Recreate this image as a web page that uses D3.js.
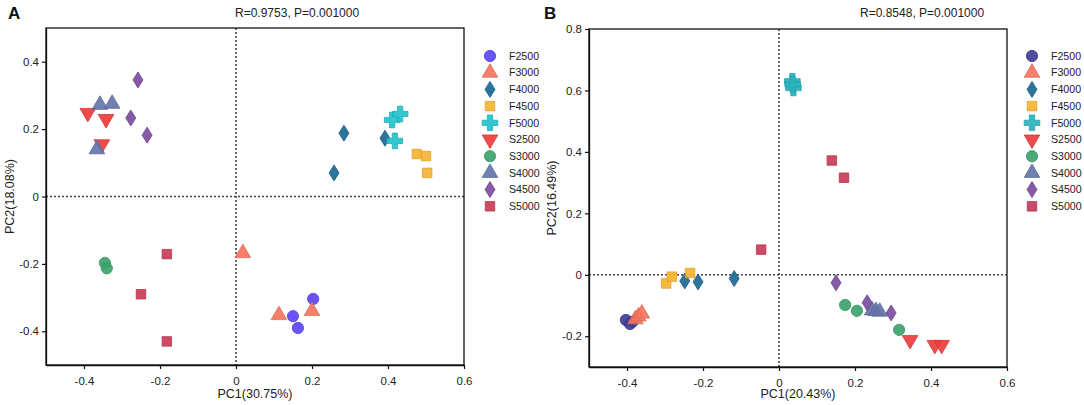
<!DOCTYPE html>
<html>
<head>
<meta charset="utf-8">
<script src="https://cdn.jsdelivr.net/npm/d3@7"></script>
<style>
  body { margin: 0; background: #fff; }
  svg { font-family: "Liberation Sans", Arial, sans-serif; }
</style>
</head>
<body>
<div id="chart"></div>
<script>
// group names and marker shapes (same order as the legend)
const groups = ["F2500", "F3000", "F4000", "F4500", "F5000", "S2500", "S3000", "S4000", "S4500", "S5000"];
const shapes = ["circle", "triangle", "diamond", "square", "cross", "down", "circle", "triangle", "diamond", "square"];
const colorsA = ["#5b47f2", "#f5755f", "#1b6894", "#f6b332", "#22c3cb", "#ee3c3c", "#3da36d", "#6575aa", "#7c4c9c", "#c93c57"];
const colorsB = ["#3f3f99", "#f5755f", "#1b6894", "#f6b332", "#27b3bd", "#ee3c3c", "#3da36d", "#6575aa", "#7c4c9c", "#c93c57"];

// panel A points: [group, PC1, PC2]
const pointsA = [
  ["F2500", 0.203, -0.304], ["F2500", 0.150, -0.355], ["F2500", 0.163, -0.390],
  ["F3000", 0.018, -0.168], ["F3000", 0.113, -0.352], ["F3000", 0.200, -0.340],
  ["F4000", 0.284, 0.188], ["F4000", 0.392, 0.173], ["F4000", 0.258, 0.070],
  ["F4500", 0.476, 0.126], ["F4500", 0.500, 0.120], ["F4500", 0.503, 0.070],
  ["F5000", 0.411, 0.227], ["F5000", 0.432, 0.245], ["F5000", 0.418, 0.165],
  ["S2500", -0.390, 0.248], ["S2500", -0.342, 0.230], ["S2500", -0.353, 0.155],
  ["S3000", -0.345, -0.197], ["S3000", -0.340, -0.213],
  ["S4000", -0.358, 0.272], ["S4000", -0.326, 0.275], ["S4000", -0.366, 0.140],
  ["S4500", -0.258, 0.346], ["S4500", -0.277, 0.233], ["S4500", -0.234, 0.182],
  ["S5000", -0.182, -0.171], ["S5000", -0.250, -0.290], ["S5000", -0.182, -0.430]
];

// panel B points: [group, PC1, PC2]
const pointsB = [
  ["F2500", -0.403, -0.147], ["F2500", -0.392, -0.160], ["F2500", -0.385, -0.152],
  ["F3000", -0.378, -0.145], ["F3000", -0.370, -0.136], ["F3000", -0.361, -0.126],
  ["F4000", -0.248, -0.020], ["F4000", -0.213, -0.023], ["F4000", -0.118, -0.012],
  ["F4500", -0.297, -0.028], ["F4500", -0.282, -0.006], ["F4500", -0.234, 0.006],
  ["F5000", 0.035, 0.630], ["F5000", 0.038, 0.608], ["F5000", 0.036, 0.620],
  ["S2500", 0.345, -0.212], ["S2500", 0.410, -0.228], ["S2500", 0.428, -0.228],
  ["S3000", 0.174, -0.098], ["S3000", 0.205, -0.117], ["S3000", 0.316, -0.179],
  ["S4000", 0.245, -0.116], ["S4000", 0.255, -0.118], ["S4000", 0.265, -0.120],
  ["S4500", 0.150, -0.026], ["S4500", 0.232, -0.091], ["S4500", 0.295, -0.124],
  ["S5000", 0.139, 0.372], ["S5000", 0.171, 0.316], ["S5000", -0.047, 0.082]
];

const xTicks = [-0.4, -0.2, 0, 0.2, 0.4, 0.6];
const yTicksA = [-0.4, -0.2, 0, 0.2, 0.4];
const yTicksB = [-0.2, 0, 0.2, 0.4, 0.6, 0.8];

const svg = d3.select("#chart").append("svg")
  .attr("width", 1084)
  .attr("height", 405);

// marker path for each shape, centred at 0,0
function markerPath(shape) {
  if (shape === "circle") return d3.symbol(d3.symbolCircle, 100)();
  if (shape === "triangle") return d3.symbol(d3.symbolTriangle, 105)();
  if (shape === "down") return d3.symbol(d3.symbolTriangle, 105)();
  if (shape === "square") return d3.symbol(d3.symbolSquare, 90)();
  if (shape === "cross") return d3.symbol(d3.symbolCross, 135)();
  // tall narrow diamond
  return "M0,-8L5,0L0,8L-5,0Z";
}

const fmt = d => String(+d.toFixed(1));

function panel(opts) {
  const x = d3.scaleLinear().domain(opts.xDomain).range([opts.left, opts.right]);
  const y = d3.scaleLinear().domain(opts.yDomain).range([opts.bottom, opts.top]);
  const g = svg.append("g");

  // dotted zero lines
  g.append("line")
    .attr("x1", x(0)).attr("x2", x(0))
    .attr("y1", opts.top).attr("y2", opts.bottom)
    .attr("stroke", "#444").attr("stroke-width", 1.6).attr("stroke-dasharray", "2,2");
  g.append("line")
    .attr("x1", opts.left).attr("x2", opts.right)
    .attr("y1", y(0)).attr("y2", y(0))
    .attr("stroke", "#444").attr("stroke-width", 1.6).attr("stroke-dasharray", "2,2");

  // frame
  g.append("rect")
    .attr("x", opts.left).attr("y", opts.top)
    .attr("width", opts.right - opts.left).attr("height", opts.bottom - opts.top)
    .attr("fill", "none").attr("stroke", "#111").attr("stroke-width", 1.3);

  const xAxis = g.append("g")
    .attr("transform", `translate(0,${opts.bottom})`)
    .call(d3.axisBottom(x).tickValues(xTicks).tickFormat(fmt).tickSize(4).tickSizeOuter(0));
  const yAxis = g.append("g")
    .attr("transform", `translate(${opts.left},0)`)
    .call(d3.axisLeft(y).tickValues(opts.yTicks).tickFormat(fmt).tickSize(4).tickSizeOuter(0));
  [xAxis, yAxis].forEach(a => {
    a.select(".domain").attr("stroke", "#111").attr("stroke-width", 1.3);
    a.selectAll(".tick line").attr("stroke", "#111").attr("stroke-width", 1.2);
    a.selectAll(".tick text").attr("font-size", 11.5).attr("fill", "#222")
      .attr("font-family", "Liberation Sans, Arial, sans-serif");
  });
  xAxis.selectAll(".tick text").attr("dy", "1.1em");

  // points
  g.append("g").selectAll("path")
    .data(opts.points)
    .join("path")
    .attr("d", d => markerPath(shapes[groups.indexOf(d[0])]))
    .attr("transform", d => {
      const s = shapes[groups.indexOf(d[0])];
      return `translate(${x(d[1])},${y(d[2])})` + (s === "down" ? " rotate(180)" : "");
    })
    .attr("fill", d => opts.colors[groups.indexOf(d[0])])
    .attr("fill-opacity", 0.92)
    .attr("stroke", d => d3.color(opts.colors[groups.indexOf(d[0])]).darker(0.3))
    .attr("stroke-width", 0.8);

  // axis titles
  g.append("text")
    .attr("x", (opts.left + opts.right) / 2).attr("y", 398)
    .attr("text-anchor", "middle").attr("font-size", 12.5).attr("fill", "#222")
    .text(opts.xLabel);
  g.append("text")
    .attr("transform", `translate(${opts.yLabelX},${(opts.top + opts.bottom) / 2}) rotate(-90)`)
    .attr("text-anchor", "middle").attr("font-size", 12.5).attr("fill", "#222")
    .text(opts.yLabel);

  // statistic title and panel letter
  g.append("text")
    .attr("x", opts.titleX).attr("y", 17)
    .attr("font-size", 12).attr("fill", "#222")
    .text(opts.title);
  g.append("text")
    .attr("x", opts.letterX).attr("y", 19)
    .attr("font-size", 17).attr("font-weight", "bold").attr("fill", "#111")
    .text(opts.letter);

  // legend
  const leg = g.append("g").selectAll("g")
    .data(groups)
    .join("g")
    .attr("transform", (d, i) => `translate(${opts.legendX},${56 + i * 16.7})`);
  leg.append("path")
    .attr("d", (d, i) => markerPath(shapes[i]))
    .attr("transform", (d, i) => shapes[i] === "down" ? "rotate(180)" : null)
    .attr("fill", (d, i) => opts.colors[i])
    .attr("fill-opacity", 0.92)
    .attr("stroke", (d, i) => d3.color(opts.colors[i]).darker(0.3))
    .attr("stroke-width", 0.8);
  leg.append("text")
    .attr("x", 19).attr("dy", "0.35em")
    .attr("font-size", 10.6).attr("fill", "#222")
    .text(d => d);
}

panel({
  letter: "A", letterX: 8, title: "R=0.9753, P=0.001000", titleX: 235,
  left: 46, right: 464, top: 28, bottom: 365,
  xDomain: [-0.5, 0.6], yDomain: [-0.5, 0.5], yTicks: yTicksA,
  xLabel: "PC1(30.75%)", yLabel: "PC2(18.08%)", yLabelX: 14,
  points: pointsA, colors: colorsA, legendX: 490
});

panel({
  letter: "B", letterX: 544, title: "R=0.8548, P=0.001000", titleX: 860,
  left: 589, right: 1007, top: 29, bottom: 367,
  xDomain: [-0.5, 0.6], yDomain: [-0.3, 0.8], yTicks: yTicksB,
  xLabel: "PC1(20.43%)", yLabel: "PC2(16.49%)", yLabelX: 556,
  points: pointsB, colors: colorsB, legendX: 1032
});
</script>
</body>
</html>
